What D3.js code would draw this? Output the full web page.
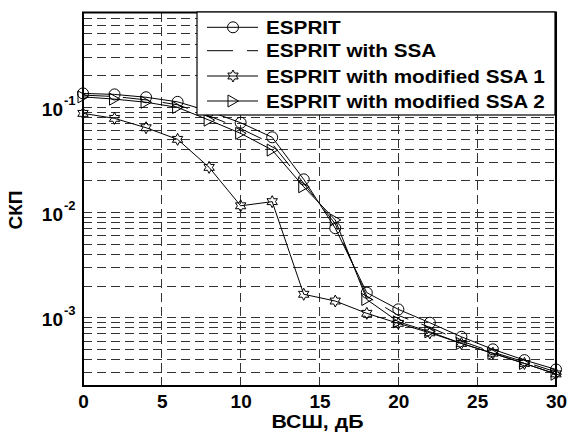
<!DOCTYPE html>
<html><head><meta charset="utf-8">
<script src="https://cdn.jsdelivr.net/npm/d3@7"></script>
<style>body{margin:0;background:#fff}svg{display:block}text{font-family:"Liberation Sans",Arial,sans-serif;font-weight:bold;fill:#000}</style>
</head><body>
<svg id="c" width="569" height="432"></svg>
<script>
const snr = [0,2,4,6,8,10,12,14,16,18,20,22,24,26,28,30];
const espritVals = [0.136,0.133,0.125,0.113,0.092,0.0715,0.052,0.0207,0.0071,0.00173,0.0012,0.000895,0.000658,0.0005,0.000395,0.000322];
const ssaVals = [0.131,0.127,0.118,0.106,0.083,0.063,0.045,0.019,0.0078,0.0016,0.00105,0.00081,0.0006,0.00047,0.00038,0.000305];
const mod1Vals = [0.0878,0.0787,0.0641,0.0497,0.0269,0.0116,0.0127,0.00167,0.00144,0.0011,0.000883,0.000718,0.000569,0.00046,0.000367,0.000292];
const mod2Vals = [0.126,0.12,0.112,0.1,0.0757,0.0567,0.0393,0.0176,0.0085,0.00149,0.000914,0.000734,0.000569,0.000457,0.000367,0.00029];
const seriesNames = ["ESPRIT","ESPRIT with SSA","ESPRIT with modified SSA 1","ESPRIT with modified SSA 2"];
const xTicks = [0,5,10,15,20,25,30];
const yMajor = [1e-1,1e-2,1e-3];
const yMajorLabels = ["-1","-2","-3"];
const xLabel = "ВСШ, дБ";
const yLabel = "СКП";

const svg = d3.select("#c");
const L=83,R=556,T=12.5,B=386;
const x = d3.scaleLinear().domain([0,30]).range([L,R]);
const y = d3.scaleLog().domain([2.24e-4,0.8]).range([B,T]);

// grid
const g = svg.append("g");
const minor=[];
for (let d=-4; d<=-1; d++) for (let k=1;k<=9;k++){const v=k*Math.pow(10,d); if(v>=2.24e-4 && v<0.8) minor.push(v);}
g.selectAll("line.h").data(minor).enter().append("line")
 .attr("x1",L).attr("x2",R).attr("y1",d=>y(d)).attr("y2",d=>y(d))
 .attr("stroke","#333").attr("stroke-width",1).attr("stroke-dasharray","9,5").attr("shape-rendering","crispEdges");
g.selectAll("line.v").data(xTicks.slice(1,-1)).enter().append("line")
 .attr("x1",d=>x(d)).attr("x2",d=>x(d)).attr("y1",T).attr("y2",B)
 .attr("stroke","#333").attr("stroke-width",1).attr("stroke-dasharray","9,5").attr("shape-rendering","crispEdges");

// axes via d3
const xAxis = d3.axisBottom(x).tickValues(xTicks).tickSize(0).tickFormat(d3.format("d"));
const xa = svg.append("g").attr("transform",`translate(0,${B})`).call(xAxis);
xa.select(".domain").remove();
xa.selectAll("text").attr("dy",null).attr("y",22).style("font-size","19px").style("font-family",'"Liberation Sans",Arial,sans-serif').style("font-weight","bold");

const yAxis = d3.axisLeft(y).tickValues(yMajor).tickSize(0).tickFormat(()=>"");
const ya = svg.append("g").attr("transform",`translate(${L},0)`).call(yAxis);
ya.select(".domain").remove();
ya.selectAll(".tick").each(function(d,i){
  const t=d3.select(this);
  t.append("text").attr("x",-20).attr("y",8).attr("text-anchor","end").style("font-size","19px").text("10");
  t.append("text").attr("x",-19).attr("y",-3).attr("text-anchor","start").style("font-size","13px").text(yMajorLabels[i]);
});

// box
svg.append("rect").attr("x",L).attr("y",T).attr("width",R-L).attr("height",B-T)
 .attr("fill","none").attr("stroke","#000").attr("stroke-width",2);

// markers
const circ = (s,px,py)=>s.append("circle").attr("cx",px).attr("cy",py).attr("r",5.5).attr("fill","none").attr("stroke","#000");
const hexPath = (()=>{const pts=[];for(let i=0;i<12;i++){const a=-Math.PI/2+i*Math.PI/6;const r=i%2?3.3:6;pts.push([r*Math.cos(a),r*Math.sin(a)]);}return "M"+pts.map(p=>p.join(",")).join("L")+"Z";})();
const hex = (s,px,py)=>s.append("path").attr("d",hexPath).attr("transform",`translate(${px},${py})`).attr("fill","none").attr("stroke","#000");
const tri = (s,px,py)=>s.append("path").attr("d","M5.5,0L-5,-6L-5,6Z").attr("transform",`translate(${px},${py})`).attr("fill","none").attr("stroke","#000");

const line = d3.line().x((d,i)=>x(snr[i])).y(d=>y(d));
const series = [
 {v:espritVals, m:circ, dash:null},
 {v:ssaVals, m:null, dash:"26,14"},
 {v:mod1Vals, m:hex, dash:null},
 {v:mod2Vals, m:tri, dash:null}
];
const pg = svg.append("g");
series.forEach(s=>{
  pg.append("path").attr("d",line(s.v)).attr("fill","none").attr("stroke","#000").attr("stroke-width",1)
    .attr("stroke-dasharray",s.dash);
  if(s.m) s.v.forEach((d,i)=>s.m(pg,x(snr[i]),y(d)));
});

// legend
const lg = svg.append("g");
lg.append("rect").attr("x",197).attr("y",12).attr("width",358).attr("height",103).attr("fill","#fff").attr("stroke","#000").attr("stroke-width",1.2);
const rows=[27.3,50.7,76,101];
series.forEach((s,i)=>{
  const ry=rows[i];
  lg.append("line").attr("x1",207).attr("x2",258).attr("y1",ry).attr("y2",ry).attr("stroke","#000").attr("stroke-dasharray",s.dash);
  if(s.m) s.m(lg,233,ry);
  const t=lg.append("text").attr("x",266).attr("y",ry+6.5).style("font-size","18px").text(seriesNames[i]);
  const w=t.node().getComputedTextLength();
  t.attr("textLength",w*1.15).attr("lengthAdjust","spacingAndGlyphs");
});

// axis labels
const xl = svg.append("text").attr("x",(L+R)/2 - 2).attr("y",428).attr("text-anchor","middle").style("font-size","19px").text(xLabel);
xl.attr("textLength",xl.node().getComputedTextLength()*1.12).attr("lengthAdjust","spacingAndGlyphs");
svg.append("text").attr("transform","translate(22,210) rotate(-90)").attr("text-anchor","middle").style("font-size","19px").text(yLabel);
</script>
</body></html>
